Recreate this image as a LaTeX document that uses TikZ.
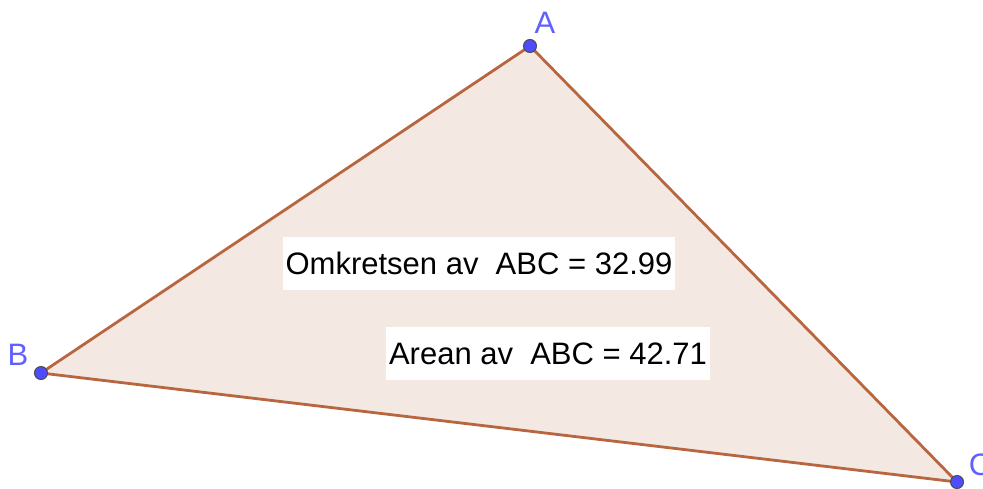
\documentclass[tikz,border=0pt]{standalone}
\usepackage{fontspec}
\setmainfont{Liberation Sans}
\definecolor{sidecol}{RGB}{184,102,64}
\definecolor{fillcol}{RGB}{244,232,226}
\definecolor{ptcol}{RGB}{77,77,255}
\definecolor{labcol}{RGB}{96,96,255}
\begin{document}
\begin{tikzpicture}[x=1pt, y=-1pt,
    point/.style={circle, draw=black!70, fill=ptcol, line width=1pt, inner sep=0pt, minimum size=13pt},
    ptlabel/.style={text=labcol, font=\fontsize{31}{33}\selectfont, inner sep=0pt},
    infobox/.style={rectangle, fill=white, minimum height=53pt, inner sep=0pt, font=\fontsize{31}{33}\selectfont},
    side/.style={draw=sidecol, line width=2.8pt, line join=round}
]
    \useasboundingbox (0,0) rectangle (983,488);

    % Vertices
    \coordinate (a) at (530,46);
    \coordinate (b) at (41,373);
    \coordinate (c) at (957,482);

    % Triangle
    \fill[fillcol] (a) -- (b) -- (c) -- cycle;
    \draw[side] (a) -- (b);
    \draw[side] (b) -- (c);
    \draw[side] (c) -- (a);

    % Text boxes
    \node[infobox, minimum width=392pt] (omkrets) at (479,263.5) {Omkretsen av \ ABC = 32.99};
    \node[infobox, minimum width=324pt] (areal) at (548,353.5) {Arean av \ ABC = 42.71};

    % Points and labels
    \node[point] (pa) at (a) {};
    \node[point] (pb) at (b) {};
    \node[point] (pc) at (c) {};
    \node[ptlabel] (la) at (545,23) {A};
    \node[ptlabel] (lb) at (18,355) {B};
    \node[ptlabel] (lc) at (980,465) {C};
\end{tikzpicture}
\end{document}
